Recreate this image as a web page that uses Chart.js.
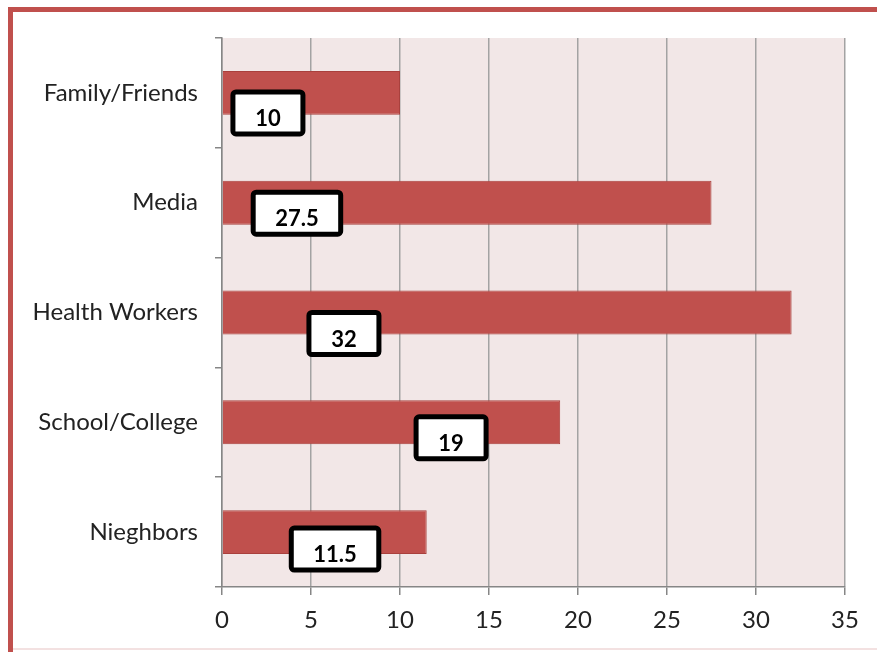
<!DOCTYPE html>
<html>
<head>
<meta charset="utf-8">
<script src="https://cdn.jsdelivr.net/npm/chart.js@4/dist/chart.umd.min.js"></script>
<style>
html,body{margin:0;padding:0;background:#fff;}
#wrap{position:relative;width:877px;height:652px;}
</style>
</head>
<body>
<div id="wrap"><canvas id="c" width="877" height="652"></canvas></div>
<script>
const categories = ["Family/Friends", "Media", "Health Workers", "School/College", "Nieghbors"];
const values = [10, 27.5, 32, 19, 11.5];
const xTicks = [0, 5, 10, 15, 20, 25, 30, 35];

const frame = {
  id: 'frame',
  beforeDraw(chart) {
    const ctx = chart.ctx, a = chart.chartArea;
    ctx.save();
    ctx.fillStyle = '#F2E7E7';
    ctx.fillRect(a.left, a.top, a.right - a.left, a.bottom - a.top);
    ctx.fillStyle = '#C0504D';
    ctx.fillRect(8, 7, 5, 645);
    ctx.fillRect(8, 7, 869, 5);
    ctx.fillStyle = '#F3E1E1';
    ctx.fillRect(13, 648, 864, 2);
    ctx.restore();
  }
};

const boxLabels = {
  id: 'boxLabels',
  afterDatasetsDraw(chart, args, opts) {
    const ctx = chart.ctx;
    const meta = chart.getDatasetMeta(0);
    const xs = chart.scales.x;
    ctx.save();
    ctx.font = 'bold 22px Lato';
    meta.data.forEach((bar, i) => {
      const p = opts.place[i];
      const cx = xs.getPixelForValue(p.at);
      const cy = bar.y + p.dy;
      const txt = String(chart.data.datasets[0].data[i]);
      const tw = ctx.measureText(txt).width;
      const w = Math.max(70, tw + 44), h = 42;
      const x = cx - w / 2, y = cy - h / 2;
      ctx.beginPath();
      ctx.roundRect(x, y, w, h, 3);
      ctx.fillStyle = '#fff';
      ctx.fill();
      ctx.lineWidth = 5;
      ctx.strokeStyle = '#000';
      ctx.stroke();
      ctx.fillStyle = '#000';
      ctx.textAlign = 'center';
      ctx.textBaseline = 'middle';
      ctx.fillText(txt, cx, cy + 6);
    });
    ctx.restore();
  }
};

new Chart(document.getElementById('c'), {
  type: 'bar',
  data: {
    labels: categories,
    datasets: [{
      data: values,
      backgroundColor: '#C0504D',
      borderColor: '#A9403D',
      borderWidth: 1,
      barPercentage: 0.4,
      categoryPercentage: 1
    }]
  },
  options: {
    indexAxis: 'y',
    responsive: false,
    animation: false,
    layout: { padding: { left: 0, top: 38, right: 32, bottom: 0 } },
    plugins: {
      legend: { display: false },
      tooltip: { enabled: false },
      boxLabels: {
        place: [
          { at: 2.58, dy: 20 },
          { at: 4.21, dy: 10.5 },
          { at: 6.85, dy: 21 },
          { at: 12.87, dy: 15.5 },
          { at: 6.35, dy: 17 }
        ]
      }
    },
    scales: {
      x: {
        min: 0, max: 35,
        afterBuildTicks(scale) { scale.ticks = xTicks.map(v => ({ value: v })); },
        afterFit(scale) { scale.height = 65; },
        grid: { color: '#A3A3A3', lineWidth: 1.5, tickLength: 8, tickColor: '#868686' },
        border: { display: true, color: '#868686', width: 1.5 },
        ticks: { color: '#222', font: { family: 'Lato', size: 24 }, padding: 11 }
      },
      y: {
        afterFit(scale) { scale.width = 222; },
        grid: { drawOnChartArea: false, offset: true, tickLength: 7, color: '#868686', lineWidth: 1.5 },
        border: { display: true, color: '#868686', width: 1.5 },
        ticks: { color: '#222', font: { family: 'Lato', size: 24 }, padding: 17 }
      }
    }
  },
  plugins: [frame, boxLabels]
});
</script>
</body>
</html>
